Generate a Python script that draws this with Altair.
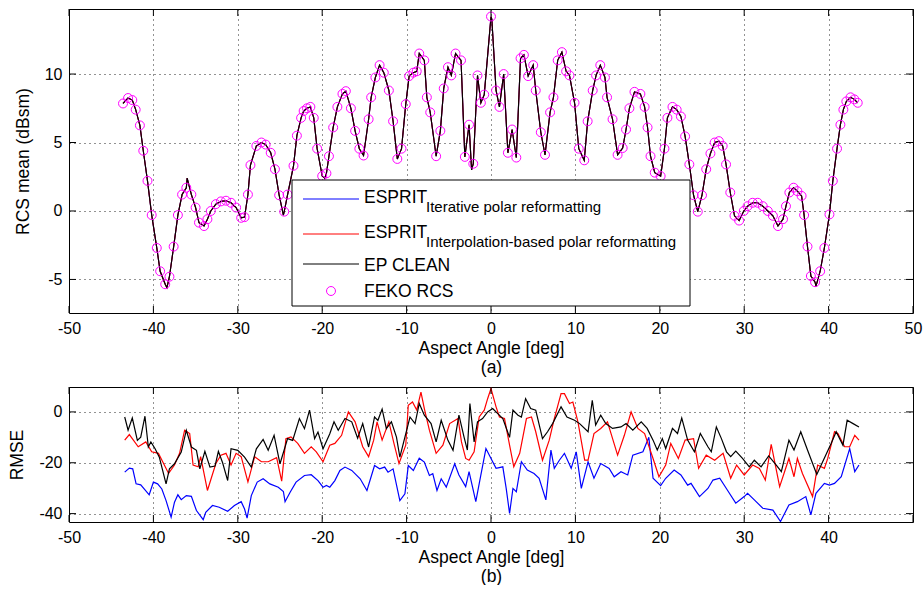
import altair as alt
import pandas as pd

# ---------------- data ----------------
# FEKO reference RCS (circles)
feko_angle = [-43.6, -43.0, -42.5, -42.1, -41.6, -41.2, -40.7, -40.2, -39.6, -39.2, -38.6, -38.1,
              -37.6, -37.1, -36.6, -36.1, -35.5, -35.0, -34.6, -34.0, -33.6, -33.2, -32.6, -32.0,
              -31.4, -30.8, -30.2, -29.6, -29.2, -28.8, -28.5, -27.8, -27.2, -26.7, -26.1, -25.6,
              -25.1, -24.5, -24.1, -23.4, -23.0, -22.5, -22.2, -21.8, -21.4, -21.0, -20.6, -20.0,
              -19.5, -19.2, -18.7, -18.2, -17.6, -17.2, -16.6, -16.1, -15.6, -15.1, -14.5, -14.2,
              -13.7, -13.2, -12.7, -12.1, -11.6, -11.1, -10.6, -10.1, -9.7, -9.2, -8.8, -8.5,
              -7.9, -7.6, -7.2, -6.5, -6.0, -5.6, -5.1, -4.7, -4.2, -3.55, -3.1, -2.6,
              -2.1, -1.6, -1.2, -0.8, 0.0, 0.6, 1.0, 1.5, 2.0, 2.5, 3.0, 3.5,
              3.9, 4.4, 5.0, 5.3, 5.9, 6.4, 7.0, 7.4, 7.9, 8.4, 8.9, 9.3,
              9.9, 10.4, 11.05, 11.45, 12.05, 12.45, 12.95, 13.5, 13.75, 14.4, 15.0, 15.6,
              16.0, 16.4, 17.0, 17.7, 18.2, 18.55, 18.9, 19.4, 20.1, 20.55, 20.9, 21.5,
              22.0, 22.5, 23.0, 23.5, 24.0, 24.5, 25.0, 25.5, 26.0, 26.5, 27.0, 27.45,
              27.85, 28.35, 28.85, 29.4, 29.95, 30.4, 31.0, 31.6, 32.2, 32.8, 33.4, 34.0,
              34.6, 34.95, 35.35, 35.85, 36.3, 36.8, 37.1, 37.5, 37.9, 38.4, 39.0, 39.5,
              40.1, 40.5, 41.0, 41.4, 41.75, 42.1, 42.6, 43.05, 43.45]
feko_rcs = [7.85, 8.25, 8.1, 7.4, 6.25, 4.4, 2.2, -0.3, -2.7, -4.4, -5.35, -4.8,
            -2.6, -0.3, 1.2, 1.7, 1.2, 0.25, -0.85, -1.1, -0.6, 0.0, 0.5, 0.7,
            0.75, 0.6, 0.25, -0.5, -0.45, 1.2, 3.35, 4.75, 5.0, 4.85, 4.25, 3.05,
            1.15, -0.05, 1.2, 3.3, 5.5, 6.8, 7.3, 7.5, 7.6, 6.8, 4.55, 2.55,
            2.75, 4.0, 6.1, 7.6, 8.55, 8.75, 7.5, 5.85, 4.55, 4.05, 6.7, 8.3,
            9.75, 10.65, 10.1, 8.8, 6.55, 3.8, 4.55, 7.8, 9.85, 10.1, 10.2, 11.5,
            11.0, 8.3, 7.2, 4.0, 5.85, 8.95, 10.5, 9.9, 11.5, 11.0, 3.95, 6.3,
            3.45, 9.9, 7.9, 8.5, 14.2, 8.8, 7.6, 10.0, 4.25, 5.95, 3.9, 11.15,
            11.4, 9.85, 10.65, 8.8, 5.75, 4.1, 7.2, 8.3, 11.0, 11.6, 10.2, 9.9,
            7.9, 4.55, 3.7, 6.55, 8.8, 9.9, 10.65, 9.75, 8.3, 6.7, 4.1, 4.6,
            5.95, 7.5, 8.7, 8.55, 7.6, 6.1, 4.0, 2.8, 2.55, 4.55, 6.8, 7.6,
            7.4, 6.9, 5.45, 3.4, 1.15, -0.05, 1.15, 3.05, 4.2, 5.0, 5.1, 4.75,
            3.4, 1.35, -0.35, -0.7, 0.0, 0.35, 0.6, 0.6, 0.35, 0.0, -0.35, -1.1,
            -0.6, 0.35, 1.35, 1.7, 1.45, 1.1, -0.3, -2.6, -4.75, -5.2, -4.4, -2.7,
            -0.25, 2.2, 4.55, 6.3, 7.4, 8.0, 8.3, 8.15, 7.9]

# extra vertices of the estimated RCS curves (the three estimates coincide at this scale)
est_extra_angle = [-38.4, -36.0, -24.6, -19.7, -2.3, 0.1, 38.5]
est_extra_rcs = [-5.6, 2.4, -0.3, 2.4, 3.0, 14.0, -5.5]

# RMSE curves
rmse_iter_angle = [-43.4, -42.85, -42.45, -42.05, -41.5, -40.5, -40.0, -39.5, -39.0, -38.5, -37.9, -37.5,
                   -37.1, -36.7, -36.1, -35.5, -34.9, -34.1, -33.8, -33.0, -32.2, -31.2, -30.4, -29.6,
                   -29.2, -28.9, -28.4, -27.7, -27.0, -26.2, -25.2, -24.6, -24.4, -23.8, -23.1, -22.1,
                   -21.3, -20.5, -19.9, -19.5, -19.1, -18.5, -17.9, -17.3, -16.5, -15.5, -14.7, -13.8,
                   -13.2, -12.6, -12.2, -11.6, -10.8, -10.2, -9.8, -9.2, -8.5, -7.9, -7.3, -6.9,
                   -6.4, -5.9, -5.3, -4.3, -3.8, -3.0, -2.6, -1.8, -1.2, -0.6, 0.0, 0.6,
                   1.4, 1.8, 2.2, 2.6, 3.0, 3.6, 4.3, 5.1, 5.7, 6.5, 7.1, 7.5,
                   8.1, 8.7, 9.5, 10.1, 10.7, 11.5, 12.2, 13.0, 14.0, 14.6, 15.4, 16.2,
                   16.8, 18.0, 18.7, 19.2, 20.1, 20.7, 21.7, 22.5, 23.3, 23.7, 24.7, 25.7,
                   26.3, 27.1, 28.0, 29.0, 30.0, 30.4, 31.2, 32.2, 33.4, 34.3, 35.3, 36.3,
                   37.3, 37.9, 38.5, 39.5, 40.1, 40.7, 41.5, 42.5, 43.1, 43.6]
rmse_iter = [-23.7, -22.1, -22.4, -28.3, -28.7, -32.6, -27.6, -28.3, -30.3, -34.9, -41.4, -35.5,
             -32.6, -34.5, -32.9, -33.2, -38.8, -42.4, -39.5, -36.8, -37.5, -39.1, -36.8, -35.3,
             -38.2, -41.8, -32.9, -27.6, -26.3, -28.3, -29.6, -31.3, -35.3, -31.6, -27.6, -25.0,
             -24.7, -27.0, -29.6, -28.9, -29.6, -27.0, -23.0, -21.7, -23.0, -26.3, -30.9, -21.1,
             -22.4, -21.7, -23.7, -22.4, -34.9, -32.2, -21.1, -23.0, -18.2, -19.7, -25.0, -24.3,
             -30.9, -26.3, -29.6, -20.4, -24.8, -29.4, -23.5, -35.3, -24.8, -14.4, -18.3, -22.2,
             -21.6, -30.1, -39.9, -30.1, -31.4, -19.6, -22.9, -24.2, -26.1, -34.6, -15.0, -22.2,
             -19.0, -16.3, -22.2, -15.7, -30.1, -19.6, -26.1, -20.3, -22.2, -25.5, -23.5, -24.8,
             -17.0, -15.7, -10.0, -26.1, -29.0, -26.1, -22.9, -24.8, -28.8, -28.1, -33.3, -30.1,
             -26.8, -26.1, -30.7, -35.9, -33.3, -32.0, -34.6, -37.9, -38.6, -43.1, -36.6, -35.3,
             -33.3, -40.5, -32.0, -28.1, -28.8, -28.1, -25.5, -14.4, -23.5, -20.9]

rmse_interp_angle = [-43.4, -42.85, -41.8, -40.9, -40.2, -39.4, -38.9, -38.2, -37.5, -36.9, -36.3, -35.7,
                     -35.3, -34.7, -34.4, -33.6, -32.6, -32.0, -31.4, -30.8, -30.2, -29.6, -28.8, -28.0,
                     -27.2, -26.4, -25.4, -24.8, -24.3, -23.7, -22.9, -22.1, -21.3, -20.7, -19.9, -19.1,
                     -18.5, -17.7, -16.9, -16.1, -15.2, -14.5, -13.9, -13.5, -12.9, -12.1, -11.5, -10.9,
                     -10.1, -9.8, -9.3, -8.8, -8.3, -7.9, -7.3, -6.5, -5.7, -4.9, -3.9, -3.5,
                     -3.0, -2.6, -2.0, -1.4, -0.8, -0.4, 0.0, 0.6, 1.0, 1.6, 2.2, 2.7,
                     3.4, 4.2, 4.8, 5.3, 6.1, 6.9, 7.5, 8.3, 8.7, 9.3, 9.7, 10.3,
                     11.1, 11.5, 12.2, 13.0, 13.8, 15.0, 15.8, 16.6, 17.4, 18.2, 19.2, 19.9,
                     20.7, 21.3, 22.2, 23.0, 24.0, 24.6, 25.5, 26.5, 27.5, 28.4, 29.1, 30.0,
                     31.0, 31.8, 32.5, 33.2, 34.2, 35.3, 35.9, 36.3, 36.9, 38.1, 38.7, 39.5,
                     39.9, 40.7, 41.1, 41.9, 42.5, 43.1, 43.6]
rmse_interp = [-11.1, -8.9, -13.7, -11.8, -15.7, -16.3, -19.6, -24.2, -20.9, -16.3, -7.2, -8.5,
               -20.9, -21.6, -17.6, -30.9, -20.3, -17.0, -16.3, -20.9, -16.3, -17.6, -27.5, -17.6,
               -19.6, -19.6, -18.0, -27.2, -10.5, -9.8, -12.4, -16.3, -13.7, -15.7, -19.6, -13.1,
               -12.4, -9.2, 0.0, -3.9, -13.7, -17.6, -11.1, -3.9, -11.1, -3.9, -12.4, -20.3,
               -13.1, 2.6, 3.9, 0.7, 7.8, 1.3, -7.2, -16.3, -13.1, -4.6, -2.6, -11.8,
               -18.3, -19.0, -15.7, -2.0, 0.7, 5.2, 9.2, 2.0, -2.0, -2.6, -13.1, -21.6,
               -16.3, -2.6, -2.0, -7.8, -19.0, -11.1, -2.6, 7.2, 7.2, 3.3, 3.9, -3.9,
               -19.0, -19.0, -8.5, -6.5, -3.9, -17.0, -9.2, 0.0, -6.5, -8.5, -18.3, -25.5,
               -20.9, -12.4, -18.3, -11.1, -10.5, -22.2, -17.0, -19.0, -16.3, -26.1, -20.9, -24.8,
               -20.9, -22.2, -26.8, -12.8, -29.4, -18.3, -25.5, -18.3, -24.2, -33.3, -20.9, -22.2,
               -18.3, -7.8, -8.5, -13.7, -13.7, -9.2, -11.1]

rmse_clean_angle = [-43.4, -43.0, -42.5, -41.9, -41.5, -41.0, -40.6, -40.3, -39.8, -39.3, -38.5, -38.1,
                    -37.5, -36.7, -36.1, -35.5, -34.9, -34.5, -33.9, -33.3, -32.7, -32.3, -31.8, -31.2,
                    -30.8, -30.0, -29.2, -28.4, -27.8, -27.0, -26.4, -25.7, -25.0, -24.1, -23.5, -22.7,
                    -22.1, -21.5, -20.9, -20.5, -19.9, -19.1, -18.6, -18.1, -17.3, -16.5, -15.8, -15.2,
                    -14.5, -13.8, -13.4, -12.9, -12.4, -11.8, -11.2, -10.8, -10.2, -9.6, -9.0, -8.5,
                    -7.9, -7.1, -6.5, -5.9, -5.1, -4.5, -3.8, -3.2, -2.8, -2.5, -2.0, -1.6,
                    -1.0, -0.4, 0.2, 0.8, 1.4, 2.2, 2.6, 3.2, 3.6, 4.1, 4.7, 5.3,
                    6.1, 6.7, 7.3, 8.3, 9.0, 9.9, 10.5, 11.5, 12.0, 12.4, 13.0, 13.6,
                    14.4, 15.4, 16.0, 16.8, 17.8, 18.5, 19.2, 19.7, 20.3, 20.7, 21.5, 22.1,
                    22.6, 23.3, 24.1, 24.8, 25.7, 26.1, 26.7, 27.3, 27.9, 28.4, 29.0, 29.8,
                    30.6, 31.2, 32.0, 32.9, 33.8, 34.4, 35.3, 35.9, 36.7, 37.5, 38.6, 39.3,
                    40.3, 40.9, 41.7, 42.2, 42.9, 43.6]
rmse_clean = [-2.0, -7.2, -2.4, -11.2, -9.9, -1.7, -13.8, -11.8, -14.5, -17.8, -28.3, -22.4,
              -20.4, -15.8, -7.2, -13.8, -15.1, -22.4, -15.5, -21.7, -21.3, -15.5, -20.0, -27.0,
              -14.5, -15.1, -17.8, -21.7, -14.5, -10.8, -15.1, -9.2, -20.4, -10.5, -11.2, -2.6,
              -6.6, 0.7, -10.5, -7.9, -14.5, -8.6, -3.9, -7.2, -2.6, -3.9, -10.3, -4.6,
              -13.8, -2.0, -3.3, 1.1, -6.6, -3.9, -9.9, -17.8, -9.9, -2.0, -4.6, 3.3,
              -1.3, -4.6, -11.8, -3.3, -11.2, -15.1, -1.3, -9.8, -15.0, 3.3, -11.8, -3.9,
              -2.6, 0.0, 1.3, -0.7, -2.6, -10.0, 0.7, -1.3, -2.0, 5.2, 1.3, 0.7,
              -10.5, -7.8, -4.6, 2.0, -2.0, -3.3, -4.6, -7.8, 4.6, -5.2, -1.3, -4.6,
              -6.5, -5.9, -4.6, -7.2, -3.9, -6.5, -11.1, -15.0, -10.5, -14.4, -6.5, -8.5,
              -2.4, -11.1, -15.7, -8.5, -13.7, -15.7, -5.9, -10.5, -15.7, -17.6, -15.4, -18.3,
              -21.6, -19.0, -21.6, -17.3, -20.9, -23.5, -11.1, -15.0, -7.8, -15.0, -24.6, -19.6,
              -12.4, -7.8, -13.1, -3.3, -4.6, -5.9]

x_ticks_top = [-50, -40, -30, -20, -10, 0, 10, 20, 30, 40, 50]
x_ticks_bottom = [-50, -40, -30, -20, -10, 0, 10, 20, 30, 40]
rcs_ticks = [-5, 0, 5, 10]
rmse_ticks = [-40, -20, 0]

legend_iter_main, legend_iter_sub = "ESPRIT", "Iterative polar reformatting"
legend_interp_main, legend_interp_sub = "ESPRIT", "Interpolation-based polar reformatting"
legend_clean = "EP CLEAN"
legend_feko = "FEKO RCS"

# ---------------- tables ----------------
feko_df = pd.DataFrame({"angle": feko_angle, "rcs": feko_rcs})
est_df = pd.DataFrame({"angle": feko_angle + est_extra_angle, "rcs": feko_rcs + est_extra_rcs})
iter_df = pd.DataFrame({"angle": rmse_iter_angle, "rmse": rmse_iter})
interp_df = pd.DataFrame({"angle": rmse_interp_angle, "rmse": rmse_interp})
clean_df = pd.DataFrame({"angle": rmse_clean_angle, "rmse": rmse_clean})

W, H1, H2 = 844, 304, 135
FONT = "Liberation Sans"
BLUE, RED, BLACK, MAG = "#0000FF", "#FF0000", "#000000", "#FF00FF"
TICK = 7

xs = alt.Scale(domain=[-50, 50], nice=False, zero=False)
ys1 = alt.Scale(domain=[-7.45, 14.75], nice=False, zero=False)
ys2 = alt.Scale(domain=[-43.3, 9.8], nice=False, zero=False)
lab = "datum.value + ''"


def xaxis(values, title):
    return alt.Axis(values=values, title=title, labelExpr=lab, labelFlush=False,
                    titlePadding=3, titleLineHeight=19)


def yaxis(values, title):
    return alt.Axis(values=values, title=title, labelExpr=lab, titlePadding=12)


def inner_ticks(xvals, yvals, ys, h):
    xt = pd.DataFrame({"v": xvals})
    yt = pd.DataFrame({"v": yvals})
    rules = []
    for y0, y1 in [(0, TICK), (h - TICK, h)]:
        rules.append(alt.Chart(xt).mark_rule(color=BLACK, strokeWidth=1).encode(
            x=alt.X("v:Q", scale=xs), y=alt.value(y0), y2=alt.value(y1)))
    for x0, x1 in [(0, TICK), (W - TICK, W)]:
        rules.append(alt.Chart(yt).mark_rule(color=BLACK, strokeWidth=1).encode(
            y=alt.Y("v:Q", scale=ys), x=alt.value(x0), x2=alt.value(x1)))
    return rules


# ---------------- top panel ----------------
def est_line(color):
    return alt.Chart(est_df).mark_line(color=color, strokeWidth=1.1, clip=True).encode(
        x=alt.X("angle:Q", scale=xs, axis=xaxis(x_ticks_top, ["Aspect Angle [deg]", "(a)"])),
        y=alt.Y("rcs:Q", scale=ys1, axis=yaxis(rcs_ticks, "RCS mean (dBsm)")))

circles = alt.Chart(feko_df).mark_point(shape="circle", filled=False, color=MAG, size=80,
                                        strokeWidth=1, opacity=1, clip=True).encode(
    x=alt.X("angle:Q", scale=xs), y=alt.Y("rcs:Q", scale=ys1))

one = alt.Data(values=[{"k": 0}])
leg = []
leg.append(alt.Chart(one).mark_rect(fill="white", stroke=BLACK, strokeWidth=1).encode(
    x=alt.value(223), x2=alt.value(621), y=alt.value(171), y2=alt.value(297)))
for yy, c in [(190, BLUE), (225, RED), (255, BLACK)]:
    leg.append(alt.Chart(one).mark_rule(color=c, strokeWidth=1).encode(
        x=alt.value(234), x2=alt.value(290), y=alt.value(yy)))
leg.append(alt.Chart(one).mark_point(shape="circle", filled=False, color=MAG, size=80,
                                     strokeWidth=1, opacity=1).encode(
    x=alt.value(262), y=alt.value(282)))
for txt, xx, yy, fs in [(legend_iter_main, 295, 194, 17.5), (legend_iter_sub, 357, 203, 15),
                        (legend_interp_main, 295, 229, 17.5), (legend_interp_sub, 357, 238, 15),
                        (legend_clean, 295, 262, 17.5), (legend_feko, 295, 288, 17.5)]:
    leg.append(alt.Chart(one).mark_text(align="left", baseline="alphabetic", font=FONT,
                                        fontSize=fs, color=BLACK).encode(
        x=alt.value(xx), y=alt.value(yy), text=alt.value(txt)))

top = alt.layer(est_line(BLUE), est_line(RED), est_line(BLACK), circles,
                *inner_ticks(x_ticks_top, rcs_ticks, ys1, H1), *leg).properties(width=W, height=H1)

# ---------------- bottom panel ----------------
def rmse_line(df, color):
    return alt.Chart(df).mark_line(color=color, strokeWidth=1.2, clip=True).encode(
        x=alt.X("angle:Q", scale=xs, axis=xaxis(x_ticks_bottom, ["Aspect Angle [deg]", "(b)"])),
        y=alt.Y("rmse:Q", scale=ys2, axis=yaxis(rmse_ticks, "RMSE")))

bottom = alt.layer(rmse_line(iter_df, BLUE), rmse_line(interp_df, RED), rmse_line(clean_df, BLACK),
                   *inner_ticks(x_ticks_bottom + [50], rmse_ticks, ys2, H2)).properties(width=W, height=H2)

chart = alt.vconcat(top, bottom, spacing=10).properties(
    padding={"left": 8, "top": 8, "right": 0, "bottom": 0}, background="white"
).configure_axis(
    labelFont=FONT, labelFontSize=16, labelColor=BLACK, labelPadding=7,
    titleFont=FONT, titleFontSize=17.5, titleFontWeight="normal", titleColor=BLACK,
    ticks=False, domain=False, grid=True, gridColor=BLACK, gridDash=[1, 4], gridWidth=1, gridOpacity=0.85
).configure_view(stroke=BLACK, strokeWidth=1)

chart.save("out.html", embed_options={"renderer": "svg", "actions": False})
